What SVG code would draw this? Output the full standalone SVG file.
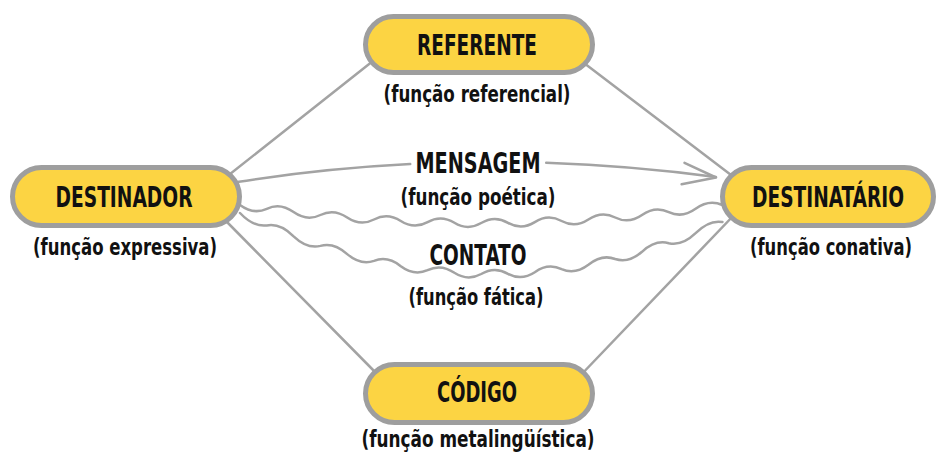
<svg xmlns="http://www.w3.org/2000/svg" width="938" height="453" viewBox="0 0 938 453">
<style>
.pill{fill:#FCD443;stroke:#9E9E9E;stroke-width:5}
.ln{fill:none;stroke:#A3A3A3;stroke-width:2.5;stroke-linecap:round;stroke-linejoin:round}
.t{font-family:"Liberation Sans Narrow","DejaVu Sans Condensed","Liberation Sans",sans-serif;font-weight:bold;fill:#111;text-anchor:middle}
.h{font-size:28px}
.s{font-size:23px}
</style>
<rect width="938" height="453" fill="#fff"/>
<g id="connectors">
<line class="ln" x1="225" y1="178" x2="378" y2="57"/>
<line class="ln" x1="580" y1="60" x2="735" y2="178"/>
<line class="ln" x1="225" y1="220" x2="380" y2="377"/>
<line class="ln" x1="735" y1="214" x2="578" y2="378"/>
<path class="ln" d="M237 182 Q323.6 168.5 410.2 164.1"/>
<path class="ln" d="M546.2 162.7 Q631.2 165.5 716 177"/>
<polyline class="ln" points="684.5,162.8 716,177.5 681.6,184.3"/>
<path class="ln" d="M240 205 Q253.4 214.9 266.8 208.8 Q280.2 202.45 293.6 212.1 Q307 221.55 320.4 215 Q333.8 208.25 347.2 217.5 Q360.6 226.5 374 219.5 Q387.4 212.25 400.8 221 Q414.2 229.55 427.6 222.1 Q441 214.45 454.4 222.8 Q467.8 230.9 481.2 223 Q494.6 214.9 508 222.8 Q521.4 230.45 534.8 222.1 Q548.2 213.55 561.6 221 Q575 228.25 588.4 219.5 Q601.8 210.5 615.2 217.5 Q628.6 224.25 642 215 Q655.4 205.55 668.8 212.1 Q682.2 218.45 695.6 208.8 Q709 198.9 722.4 205"/>
<path class="ln" d="M240 213 Q253.4 227.2 266.8 225.4 Q280.2 222.85 293.6 236.3 Q307 249.1 320.4 245.9 Q333.8 242 347.2 254.1 Q360.6 265.5 374 260.9 Q387.4 255.55 400.8 266.2 Q414.2 276.2 427.6 270.2 Q441 263.5 454.4 272.8 Q467.8 281.4 481.2 274 Q494.6 265.9 508 273.8 Q521.4 281 534.8 272.2 Q548.2 262.7 561.6 269.2 Q575 275 588.4 264.8 Q601.8 253.9 615.2 259 Q628.6 263.4 642 251.8 Q655.4 239.5 668.8 243.2 Q682.2 246.2 695.6 233.2 Q709 219.6 722.4 222"/>
</g>
<g id="referente">
<rect class="pill" x="365.5" y="16.5" width="227" height="56" rx="28"/>
<text class="t h" x="477" y="55" textLength="120" lengthAdjust="spacingAndGlyphs">REFERENTE</text>
<text class="t s" x="477" y="102" textLength="187" lengthAdjust="spacingAndGlyphs">(função referencial)</text>
</g>
<g id="destinador">
<rect class="pill" x="12.5" y="167.5" width="227" height="58" rx="29"/>
<text class="t h" x="124" y="207" textLength="137" lengthAdjust="spacingAndGlyphs">DESTINADOR</text>
<text class="t s" x="125" y="255" textLength="184" lengthAdjust="spacingAndGlyphs">(função expressiva)</text>
</g>
<g id="destinatario">
<rect class="pill" x="722.5" y="167.5" width="211" height="58" rx="29"/>
<text class="t h" x="828" y="207" textLength="152" lengthAdjust="spacingAndGlyphs">DESTINATÁRIO</text>
<text class="t s" x="831" y="255" textLength="162" lengthAdjust="spacingAndGlyphs">(função conativa)</text>
</g>
<g id="codigo">
<rect class="pill" x="365.5" y="364.5" width="227" height="58" rx="29"/>
<text class="t h" x="477" y="402" textLength="80" lengthAdjust="spacingAndGlyphs">CÓDIGO</text>
<text class="t s" x="478" y="447" textLength="233" lengthAdjust="spacingAndGlyphs">(função metalingüística)</text>
</g>
<g id="mensagem">
<text class="t h" x="478" y="173" textLength="125" lengthAdjust="spacingAndGlyphs">MENSAGEM</text>
<text class="t s" x="478" y="205" textLength="155" lengthAdjust="spacingAndGlyphs">(função poética)</text>
</g>
<g id="contato">
<text class="t h" x="478" y="265" textLength="97" lengthAdjust="spacingAndGlyphs">CONTATO</text>
<text class="t s" x="476" y="305" textLength="135" lengthAdjust="spacingAndGlyphs">(função fática)</text>
</g>
</svg>
